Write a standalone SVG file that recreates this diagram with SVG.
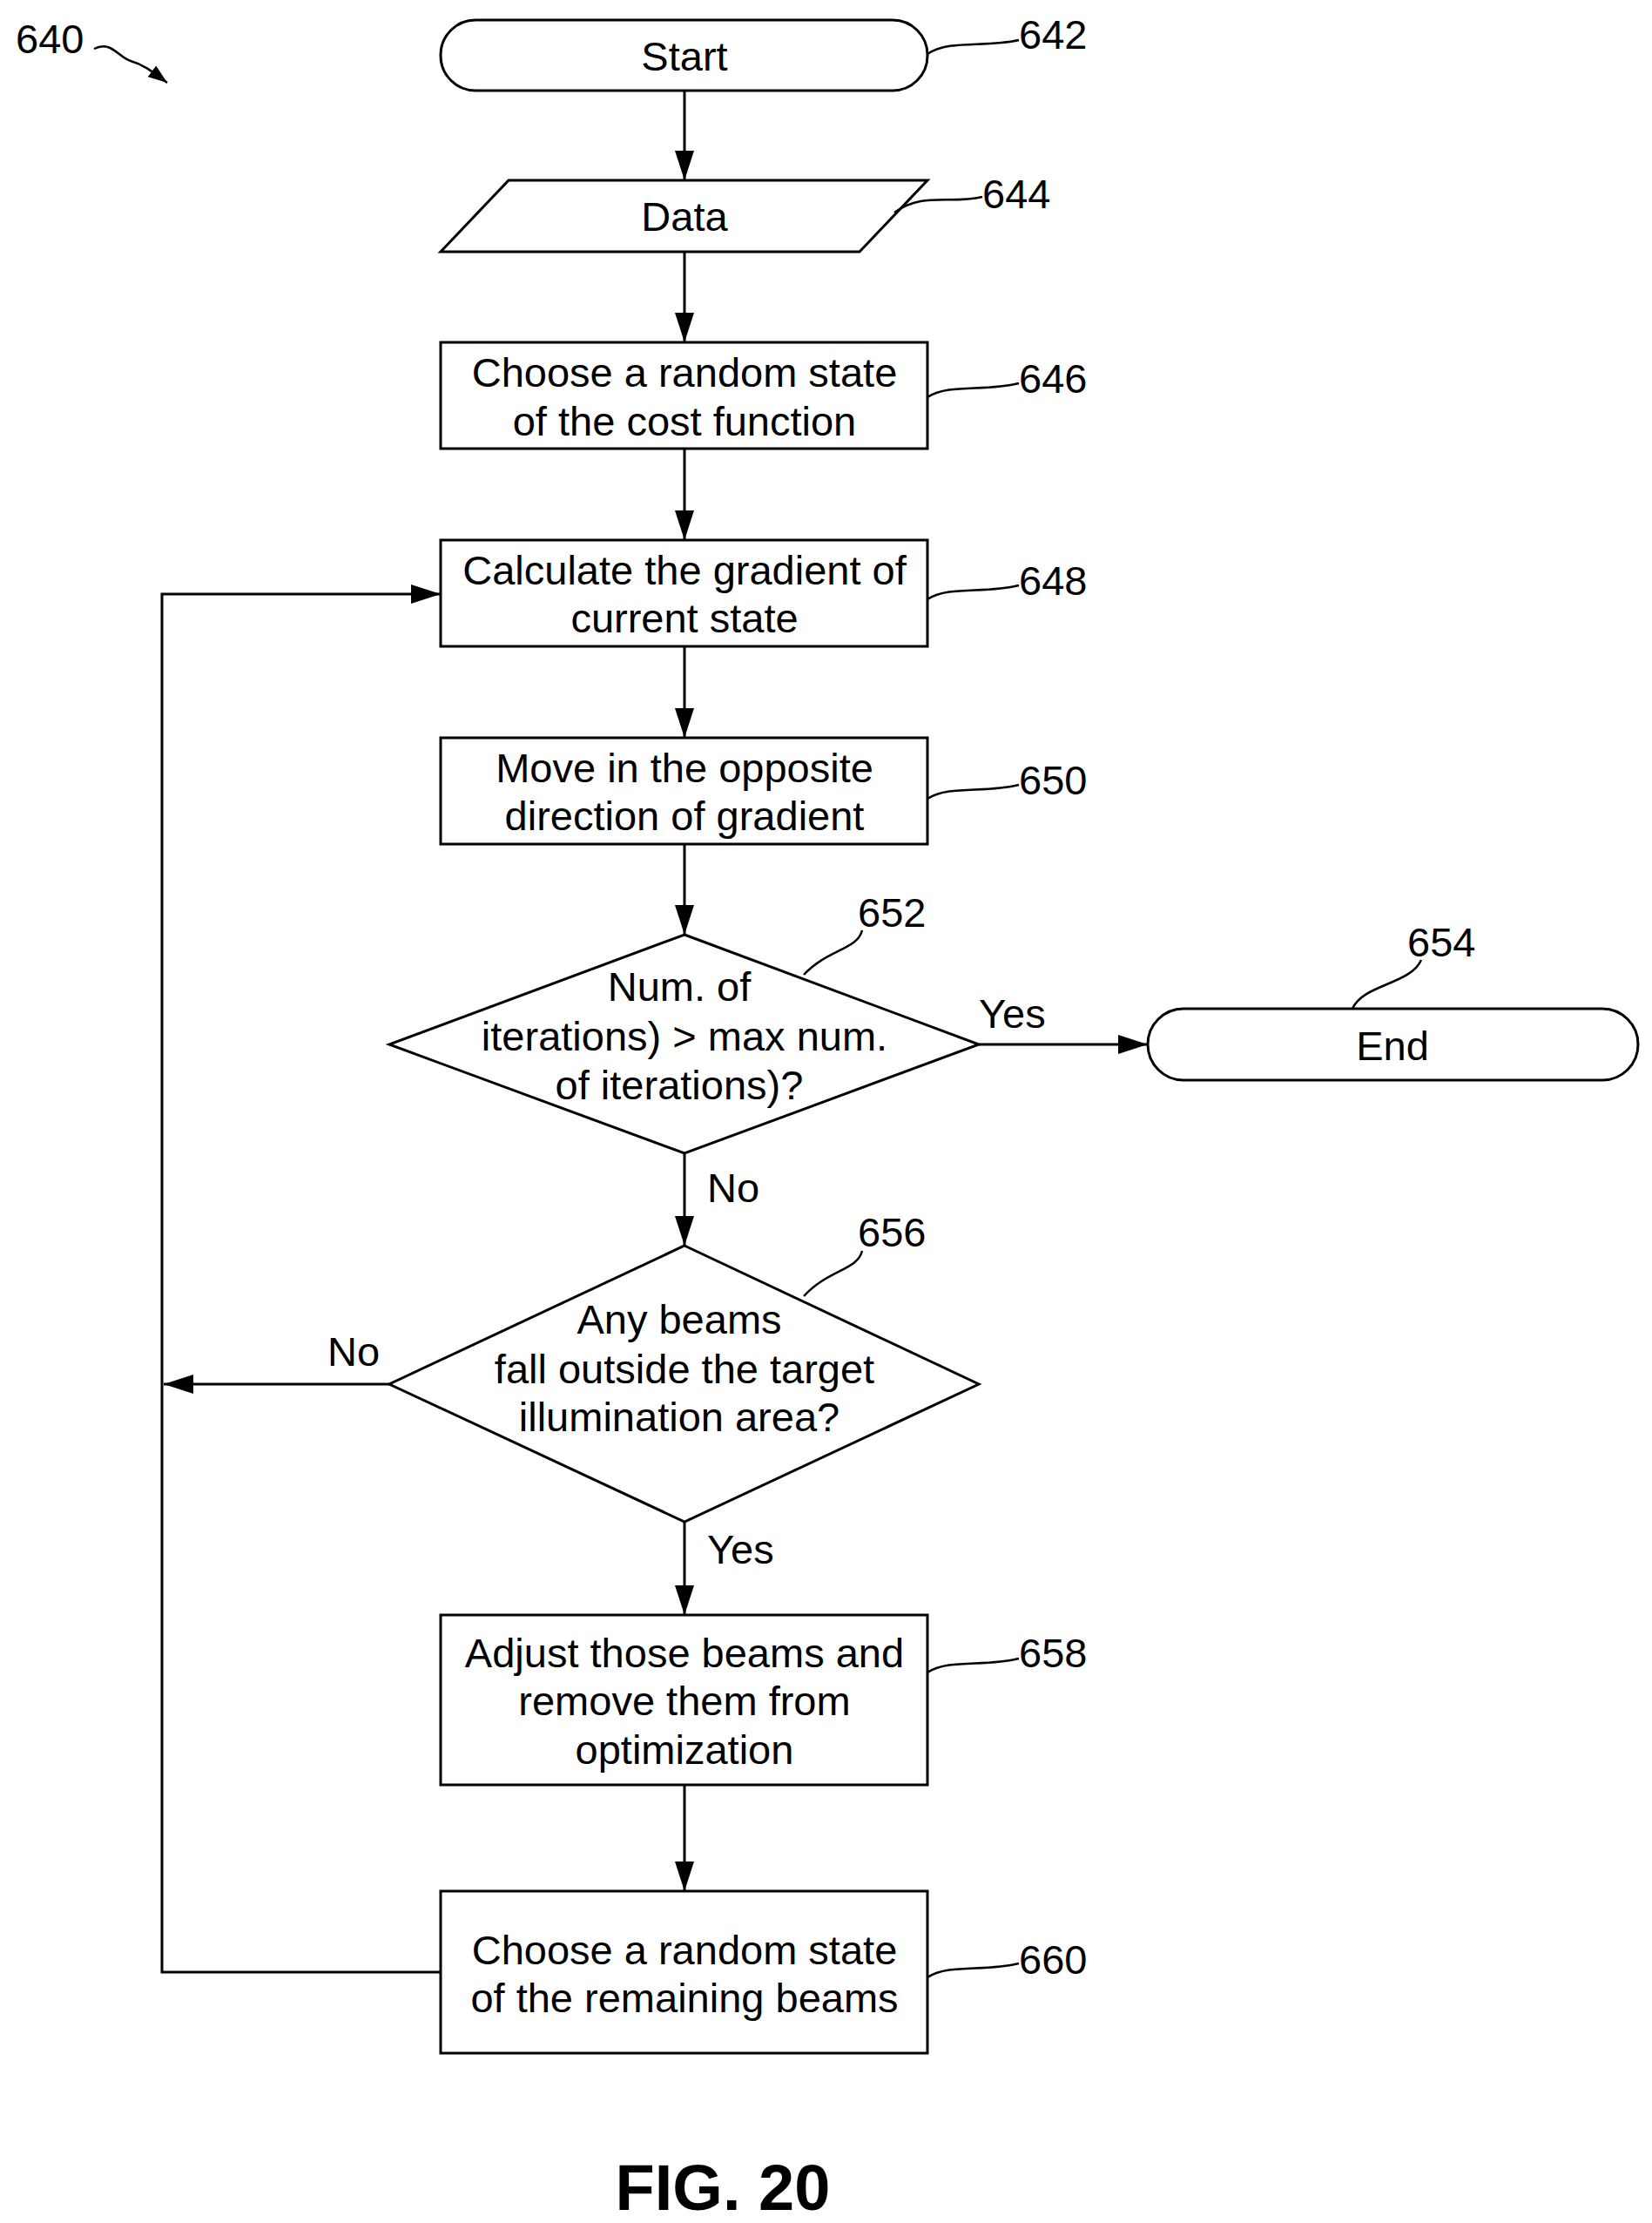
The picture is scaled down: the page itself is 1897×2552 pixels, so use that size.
<svg xmlns="http://www.w3.org/2000/svg" width="1897" height="2552" viewBox="0 0 1897 2552">
<style>
.s{fill:none;stroke:#000;stroke-width:3}
.t{font-family:"Liberation Sans",Arial,sans-serif;font-size:47px;fill:#000;text-anchor:middle;dominant-baseline:central}
.r{font-family:"Liberation Sans",Arial,sans-serif;font-size:47px;fill:#000;text-anchor:start;dominant-baseline:central}
.l{fill:none;stroke:#000;stroke-width:2.5}
</style>
<defs><marker id="a" markerWidth="22" markerHeight="16" refX="22" refY="8" orient="auto" markerUnits="userSpaceOnUse"><path d="M0,0L22,8L0,16z" fill="#000"/></marker>
<marker id="b" markerWidth="34" markerHeight="22" refX="34" refY="11" orient="auto" markerUnits="userSpaceOnUse"><path d="M0,0L34,11L0,22z" fill="#000"/></marker></defs>
<rect width="1897" height="2552" fill="#fff"/>
<g id="connectors" class="s">
<path d="M786,104V207" marker-end="url(#b)"/>
<path d="M786,289V393" marker-end="url(#b)"/>
<path d="M786,515V620" marker-end="url(#b)"/>
<path d="M786,742V847" marker-end="url(#b)"/>
<path d="M786,969V1073" marker-end="url(#b)"/>
<path d="M1124,1199H1318" marker-end="url(#b)"/>
<path d="M786,1324V1430" marker-end="url(#b)"/>
<path d="M447,1589H188" marker-end="url(#b)"/>
<path d="M786,1747V1854" marker-end="url(#b)"/>
<path d="M786,2049V2171" marker-end="url(#b)"/>
<path d="M506,2264H186V682H506" marker-end="url(#b)"/>
</g>
<g id="labels">
<text class="r" x="1124" y="1163">Yes</text>
<text class="r" x="812" y="1363">No</text>
<text class="r" x="812" y="1778">Yes</text>
<text class="r" x="376" y="1551">No</text>
</g>
<g id="n640"><text class="r" x="18" y="44">640</text><path class="l" d="M108,56C128,46 136,66 150,70C164,74 172,80 192,95" marker-end="url(#a)"/></g>
<g id="n642"><rect class="s" x="506" y="23" width="559" height="81" rx="40"/><text class="t" x="786" y="64">Start</text><text class="r" x="1170" y="39">642</text><path class="l" d="M1065,62C1090,45 1130,55 1170,46"/></g>
<g id="n644"><polygon class="s" points="584,207 1065,207 987,289 506,289"/><text class="t" x="786" y="248">Data</text><text class="r" x="1128" y="222">644</text><path class="l" d="M1027,244C1060,220 1090,235 1128,226"/></g>
<g id="n646"><rect class="s" x="506" y="393" width="559" height="122"/><text class="t" x="786" y="427">Choose a random state</text><text class="t" x="786" y="483">of the cost function</text><text class="r" x="1170" y="434">646</text><path class="l" d="M1065,456C1090,440 1130,450 1170,440"/></g>
<g id="n648"><rect class="s" x="506" y="620" width="559" height="122"/><text class="t" x="786" y="654">Calculate the gradient of</text><text class="t" x="786" y="709">current state</text><text class="r" x="1170" y="666">648</text><path class="l" d="M1065,688C1090,672 1130,682 1170,672"/></g>
<g id="n650"><rect class="s" x="506" y="847" width="559" height="122"/><text class="t" x="786" y="881">Move in the opposite</text><text class="t" x="786" y="936">direction of gradient</text><text class="r" x="1170" y="895">650</text><path class="l" d="M1065,917C1090,901 1130,911 1170,901"/></g>
<g id="n652"><polygon class="s" points="786,1073 1124,1199 786,1324 447,1199"/><text class="t" x="780" y="1132">Num. of</text><text class="t" x="786" y="1189">iterations) &gt; max num.</text><text class="t" x="780" y="1245">of iterations)?</text><text class="r" x="985" y="1047">652</text><path class="l" d="M923,1119C950,1090 985,1090 990,1068"/></g>
<g id="n654"><rect class="s" x="1318" y="1158" width="563" height="82" rx="41"/><text class="t" x="1599" y="1200">End</text><text class="r" x="1616" y="1081">654</text><path class="l" d="M1553,1158C1565,1130 1620,1130 1632,1102"/></g>
<g id="n656"><polygon class="s" points="786,1430 1124,1589 786,1747 447,1589"/><text class="t" x="780" y="1514">Any beams</text><text class="t" x="786" y="1571">fall outside the target</text><text class="t" x="780" y="1626">illumination area?</text><text class="r" x="985" y="1414">656</text><path class="l" d="M923,1488C950,1458 985,1458 990,1436"/></g>
<g id="n658"><rect class="s" x="506" y="1854" width="559" height="195"/><text class="t" x="786" y="1897">Adjust those beams and</text><text class="t" x="786" y="1952">remove them from</text><text class="t" x="786" y="2008">optimization</text><text class="r" x="1170" y="1897">658</text><path class="l" d="M1065,1920C1090,1904 1130,1914 1170,1904"/></g>
<g id="n660"><rect class="s" x="506" y="2171" width="559" height="186"/><text class="t" x="786" y="2238">Choose a random state</text><text class="t" x="786" y="2293">of the remaining beams</text><text class="r" x="1170" y="2249">660</text><path class="l" d="M1065,2270C1090,2254 1130,2264 1170,2254"/></g>
<text x="830" y="2537" style="font-family:'Liberation Sans',Arial,sans-serif;font-size:74px;font-weight:bold;text-anchor:middle">FIG. 20</text>
</svg>
